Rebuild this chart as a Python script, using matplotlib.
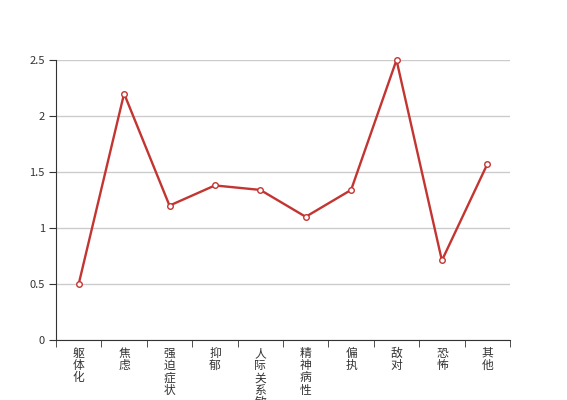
import matplotlib
matplotlib.use("Agg")
import matplotlib.pyplot as plt
import numpy as np

plt.rcParams['font.family'] = ['Noto Sans CJK SC', 'DejaVu Sans']

# Data
categories = ["躯体化", "焦虑", "强迫症状", "抑郁", "人际关系敏感",
              "精神病性", "偏执", "敌对", "恐怖", "其他"]
values = [0.5, 2.2, 1.2, 1.38, 1.34, 1.1, 1.34, 2.5, 0.71, 1.57]
y_ticks = [0, 0.5, 1, 1.5, 2, 2.5]
y_tick_labels = ["0", "0.5", "1", "1.5", "2", "2.5"]

fig = plt.figure(figsize=(5.67, 4.0), dpi=100)
ax = fig.add_axes([56 / 567, 0.15, (510 - 56) / 567, 0.70])

x = np.arange(len(categories))
ax.plot(x, values, color="#c23531", linewidth=1.7, marker="o", markersize=4,
        markerfacecolor="white", markeredgecolor="#c23531", markeredgewidth=1,
        zorder=3, clip_on=False)

ax.set_xlim(-0.5, len(categories) - 0.5)
ax.set_ylim(0, 2.5)

ax.set_yticks(y_ticks)
ax.set_yticklabels(y_tick_labels, fontsize=8, color="#333333")
ax.yaxis.grid(True, color="#cccccc", linewidth=1)
ax.set_axisbelow(True)

# vertical category labels, one character per line
ax.set_xticks(x)
ax.set_xticklabels(["\n".join(c) for c in categories], fontsize=8.5,
                   color="#333333", linespacing=0.92, va="top")
ax.tick_params(axis="x", length=0, pad=5)
ax.set_xticks(np.arange(len(categories) + 1) - 0.5, minor=True)
ax.tick_params(axis="x", which="minor", length=5, color="#333333")
ax.tick_params(axis="y", length=5, color="#333333", pad=3)

for side in ["top", "right"]:
    ax.spines[side].set_visible(False)
ax.spines["left"].set_color("#333333")
ax.spines["bottom"].set_color("#333333")

fig.savefig("out.png", dpi=100)
